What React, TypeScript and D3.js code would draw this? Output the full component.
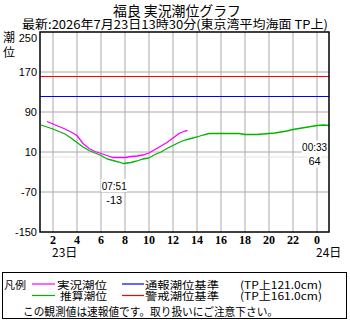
import React from "react";
import * as d3 from "d3";

const title = "福良 実況潮位グラフ";
const subtitle = "最新:2026年7月23日13時30分(東京湾平均海面 TP上)";
const yTicks = [250, 170, 90, 10, -70, -150];
const xTickHours = [2, 4, 6, 8, 10, 12, 14, 16, 18, 20, 22, 24];
const xTickLabels = ["2", "4", "6", "8", "10", "12", "14", "16", "18", "20", "22", "0"];
const dayLabels = ["23日", "24日"];
const dayHours = [2, 24];

const predHours = [1, 2, 3, 3.5, 4, 4.5, 5, 5.5, 6, 6.5, 7, 7.5, 7.85, 8.5, 9, 9.5, 10, 10.5, 11, 11.5, 12, 12.5, 13, 13.5, 14, 14.5, 15, 16, 17, 17.5, 18, 19, 19.5, 20, 20.5, 21, 21.5, 22, 22.5, 23, 23.5, 24, 24.55, 25];
const predValues = [64, 56, 46, 38, 29, 20, 13, 8, 3, -4, -7, -10, -13, -11, -8, -4, -2, 5, 10, 17, 23, 29, 34, 37, 40, 44, 47, 47, 47, 47, 45, 45, 46, 47, 48, 50, 52, 55, 57, 59, 61, 63, 64, 63];

const obsHours = [1.5, 2, 2.5, 3, 3.5, 4, 4.5, 5, 5.5, 6, 6.5, 7, 7.5, 8, 8.5, 9, 9.5, 10, 10.5, 11, 11.5, 12, 12.5, 13, 13.2];
const obsValues = [71, 66, 61, 56, 50, 43, 27, 17, 11, 7, 3, -1, -1, -1, 1, 2, 4, 8, 15, 22, 29, 38, 47, 52, 53];

const warnLevel = 161;
const notifyLevel = 121;

const annTimes = ["07:51", "00:33"];
const annHours = [7.85, 24.55];
const annValues = [-13, 64];

const legendRow1 = ["実況潮位", "通報潮位基準", "(TP上121.0cm)"];
const legendRow2 = ["推算潮位", "警戒潮位基準", "(TP上161.0cm)"];
const legendNote = "この観測値は速報値です。取り扱いにご注意下さい。";

const JP = "'Noto Sans CJK JP', sans-serif";
const SANS = "'Liberation Sans', Arial, sans-serif";

export default function App() {
  const L = 40, R = 329, T = 32, B = 232;
  const x = d3.scaleLinear().domain([1, 25]).range([41, 329]);
  const y = d3.scaleLinear().domain([-150, 250]).range([B, T]);
  const line = d3.line<[number, number]>().x(d => x(d[0])).y(d => y(d[1]));
  const pred = line(predHours.map((h, i) => [h, predValues[i]] as [number, number])) || "";
  const obs = line(obsHours.map((h, i) => [h, obsValues[i]] as [number, number])) || "";
  const LF = 10.5;

  return (
    <svg width={350} height={320} style={{ position: "absolute", left: 0, top: 0, background: "#fff" }}>
      <rect x={0} y={0} width={350} height={320} fill="#fff" />
      <text x={177} y={16} fontFamily={JP} fontSize={14} textAnchor="middle" textLength={128} lengthAdjust="spacingAndGlyphs">{title}</text>
      <text x={22} y={28.5} fontFamily={JP} fontSize={12} textLength={306} lengthAdjust="spacingAndGlyphs">{subtitle}</text>
      <text x={3} y={42} fontFamily={JP} fontSize={12}>潮</text>
      <text x={3} y={57} fontFamily={JP} fontSize={12}>位</text>

      {/* grid */}
      {xTickHours.map(h => (
        <line key={"v" + h} x1={x(h)} x2={x(h)} y1={T} y2={B} stroke="#aaa" strokeWidth={1} />
      ))}
      {yTicks.filter(v => v !== 250 && v !== -150).map(v => (
        <line key={"h" + v} x1={L} x2={R} y1={y(v)} y2={y(v)} stroke="#aaa" strokeWidth={1} />
      ))}
      <line x1={L} x2={R} y1={y(0)} y2={y(0)} stroke="#e2e2e2" strokeWidth={1} />

      {/* reference levels */}
      <line x1={L} x2={R} y1={y(warnLevel)} y2={y(warnLevel)} stroke="#ff0000" strokeWidth={1.2} />
      <line x1={L} x2={R} y1={y(notifyLevel)} y2={y(notifyLevel)} stroke="#0000ff" strokeWidth={1.2} />

      {/* series */}
      <path d={pred} fill="none" stroke="#00b400" strokeWidth={1.3} />
      <path d={obs} fill="none" stroke="#ff00ff" strokeWidth={1.3} />

      {/* annotations */}
      {annTimes.map((t, i) => {
        const cx = x(annHours[i]) - 9;
        const cy = y(annValues[i]) + 22;
        const v = String(annValues[i]);
        const w1 = t.length * 5 + 1;
        const w2 = v.length * 5.5 + 3;
        return (
          <g key={t}>
            <rect x={cx - w1 / 2} y={cy - 6.5} width={w1} height={13} fill="#fff" />
            <text x={cx} y={cy + 4} fontFamily={SANS} fontSize={11} textAnchor="middle" textLength={w1 - 1} lengthAdjust="spacingAndGlyphs">{t}</text>
            <rect x={cx - w2 / 2} y={cy + 7.5} width={w2} height={13} fill="#fff" />
            <text x={cx} y={cy + 18} fontFamily={SANS} fontSize={11} textAnchor="middle">{v}</text>
          </g>
        );
      })}

      {/* frame */}
      <rect x={L} y={T} width={R - L} height={B - T} fill="none" stroke="#000" strokeWidth={1.5} />

      {/* y ticks */}
      {yTicks.map(v => (
        <text key={"yt" + v} x={37} y={(v === 250 ? y(v) + 5.5 : y(v)) + 4} fontFamily={SANS} fontSize={11} textAnchor="end">{v}</text>
      ))}

      {/* x ticks */}
      {xTickHours.map((h, i) => (
        <text key={"xt" + h} x={x(h)} y={244} fontFamily="'Liberation Serif', serif" fontWeight="bold" fontSize={12} textAnchor="middle">{xTickLabels[i]}</text>
      ))}
      {dayLabels.map((d, i) => (
        <text key={d} x={x(dayHours[i]) - 1} y={257} fontFamily={JP} fontSize={12}>{d}</text>
      ))}

      {/* legend */}
      <rect x={2.5} y={272.5} width={344} height={46} fill="none" stroke="#000" strokeWidth={1} />
      <text x={4} y={288.5} fontFamily={JP} fontSize={LF} textLength={22} lengthAdjust="spacingAndGlyphs">凡例</text>
      <line x1={32} x2={55} y1={284} y2={284} stroke="#ff00ff" strokeWidth={1.2} />
      <text x={57} y={288.5} fontFamily={JP} fontSize={LF} textLength={50} lengthAdjust="spacingAndGlyphs">{legendRow1[0]}</text>
      <line x1={122} x2={144} y1={284} y2={284} stroke="#0000ff" strokeWidth={1.2} />
      <text x={145} y={288.5} fontFamily={JP} fontSize={LF} textLength={74} lengthAdjust="spacingAndGlyphs">{legendRow1[1]}</text>
      <text x={240} y={288.5} fontFamily={JP} fontSize={LF} textLength={82} lengthAdjust="spacingAndGlyphs">{legendRow1[2]}</text>

      <line x1={32} x2={55} y1={295.5} y2={295.5} stroke="#00b400" strokeWidth={1.2} />
      <text x={60} y={299.5} fontFamily={JP} fontSize={LF} textLength={47} lengthAdjust="spacingAndGlyphs">{legendRow2[0]}</text>
      <line x1={122} x2={144} y1={295.5} y2={295.5} stroke="#ff0000" strokeWidth={1.2} />
      <text x={145} y={299.5} fontFamily={JP} fontSize={LF} textLength={74} lengthAdjust="spacingAndGlyphs">{legendRow2[1]}</text>
      <text x={240} y={299.5} fontFamily={JP} fontSize={LF} textLength={82} lengthAdjust="spacingAndGlyphs">{legendRow2[2]}</text>

      <text x={23} y={316} fontFamily={JP} fontSize={11} textLength={255} lengthAdjust="spacingAndGlyphs">{legendNote}</text>
    </svg>
  );
}
